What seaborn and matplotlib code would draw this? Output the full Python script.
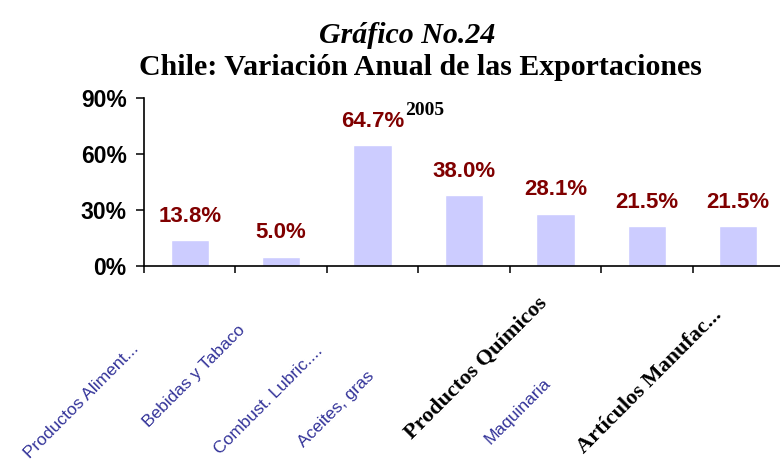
import matplotlib
matplotlib.use('Agg')
import matplotlib.pyplot as plt
import matplotlib.transforms as mtransforms
import seaborn as sns
import pandas as pd

# datos del grafico
categorias = ['Productos Aliment...', 'Bebidas y Tabaco', 'Combust. Lubric....',
              'Aceites, gras', 'Productos Químicos', 'Maquinaria',
              'Artículos Manufac...']
variacion = [13.8, 5.0, 64.7, 38.0, 28.1, 21.5, 21.5]
yticks = [0, 30, 60, 90]
ytick_labels = ['0%', '30%', '60%', '90%']

sns.set_style('white')
plt.rcParams['font.family'] = ['Liberation Sans', 'DejaVu Sans']
plt.rcParams['text.color'] = 'black'
plt.rcParams['xtick.color'] = 'black'
plt.rcParams['ytick.color'] = 'black'
plt.rcParams['axes.labelcolor'] = 'black'

SERIF = ['Liberation Serif', 'DejaVu Serif']

df = pd.DataFrame({'Categoria': categorias, 'Variacion': variacion})

fig = plt.figure(figsize=(7.8, 4.63), dpi=100)
ax = fig.add_axes([144 / 780, 1 - 266 / 463, 640 / 780, 168 / 463])

sns.barplot(data=df, x='Categoria', y='Variacion', order=categorias,
            color='#CCCCFF', saturation=1, width=0.42, ax=ax)

ax.bar_label(ax.containers[0], labels=[f'{v:.1f}%' for v in variacion],
             padding=9.5, color='#800000', fontsize=16, fontweight='bold')

ax.set_ylim(0, 90)
ax.set_xlim(-0.5, len(categorias) - 0.5)
ax.set_yticks(yticks)
ax.set_yticklabels(ytick_labels, fontsize=16.5, fontweight='bold')
ax.tick_params(axis='y', direction='out', length=6, width=1.1, pad=6.5, left=True)
ax.set_xlabel('')
ax.set_ylabel('')

for side in ['top', 'right']:
    ax.spines[side].set_visible(False)
for side in ['left', 'bottom']:
    ax.spines[side].set_color('black')
    ax.spines[side].set_linewidth(1.2)

# marcas entre categorias
ax.set_xticks([i - 0.5 for i in range(len(categorias) + 1)], minor=True)
ax.tick_params(axis='x', which='minor', direction='out', length=5, width=1.1, bottom=True)
ax.tick_params(axis='x', which='major', length=0, pad=0)

# etiquetas inclinadas (desplazamiento en pixeles respecto al centro de la categoria)
offsets = [(-53, 80), (-38, 62), (-52, 82), (-92, 108), (-11, 34), (-99, 115), (-19, 46)]
serif_labels = {'Productos Químicos', 'Artículos Manufac...'}
ax.set_xticks(range(len(categorias)))
ax.set_xticklabels(categorias, rotation=45, ha='right', va='center',
                   rotation_mode='anchor')
for lbl, (dx, dy) in zip(ax.get_xticklabels(), offsets):
    if lbl.get_text() in serif_labels:
        lbl.set_fontfamily(SERIF)
        lbl.set_fontweight('bold')
        lbl.set_fontsize(16)
        lbl.set_color('black')
    else:
        lbl.set_fontsize(12.5)
        lbl.set_color('#333399')
    lbl.set_transform(lbl.get_transform() +
                      mtransforms.ScaledTranslation(dx / 100, -dy / 100, fig.dpi_scale_trans))

# titulos
fig.text(407 / 780, 1 - 43 / 463, 'Gráfico No.24', ha='center', va='baseline',
         fontsize=21.5, fontweight='bold', fontstyle='italic', family=SERIF)
fig.text(420 / 780, 1 - 75 / 463, 'Chile: Variación Anual de las Exportaciones',
         ha='center', va='baseline', fontsize=21.5, fontweight='bold', family=SERIF)
fig.text(405 / 780, 1 - 115 / 463, '2005', ha='left', va='baseline',
         fontsize=14, fontweight='bold', family=SERIF)

fig.savefig('out.png', dpi=100)
